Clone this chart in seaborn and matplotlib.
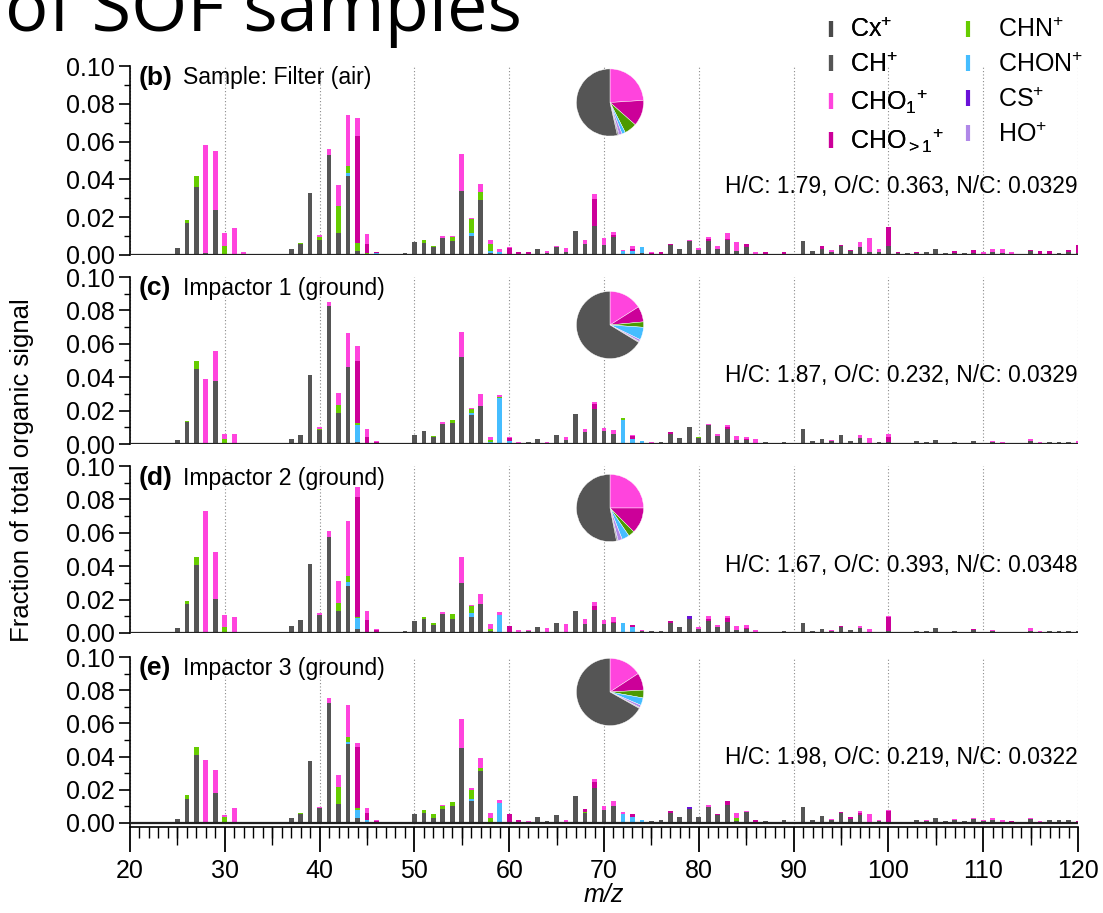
import numpy as np
import pandas as pd
import matplotlib
matplotlib.use("Agg")
import matplotlib.pyplot as plt
from matplotlib.lines import Line2D
from matplotlib.ticker import MultipleLocator, FixedLocator, FormatStrFormatter
import seaborn as sns

# ---------------- data ----------------
MZ = list(range(20, 121))
STACK_ORDER = ["CH", "CHON", "CHN", "CHOgt1", "CHO1", "CS"]  # bottom -> top

# Panel (b) Filter (air)
b_CH = {25: .0035, 26: .017, 27: .036, 28: .001, 29: .024, 30: .0003, 37: .0032, 38: .0058, 39: .033,
        40: .0078, 41: .0529, 42: .0116, 43: .0416, 44: .0023, 46: .0004, 49: .001, 50: .0069, 51: .0065,
        52: .004, 53: .0088, 54: .0076, 55: .034, 56: .010, 57: .029, 58: .001, 59: .0005, 63: .003,
        64: .0008, 65: .0044, 66: .0018, 67: .0125, 68: .0058, 69: .0155, 70: .0055, 71: .0095, 72: .0004,
        74: .001, 75: .0004, 77: .0051, 78: .0032, 79: .0074, 80: .0026, 81: .0074, 82: .0032, 83: .0078,
        84: .0021, 85: .0044, 86: .0004, 87: .0006, 88: .0005, 89: .0006, 91: .0074, 92: .0021, 93: .003,
        94: .0018, 95: .0048, 96: .002, 97: .004, 98: .0016, 99: .0016, 100: .0048, 101: .0008, 102: .0009,
        103: .0008, 104: .0016, 105: .003, 106: .001, 107: .001, 108: .0012, 109: .001, 110: .0004,
        111: .0016, 112: .0008, 113: .0004, 114: .0004, 115: .002, 116: .0006, 117: .0006, 118: .001,
        119: .0018, 120: .001}
b_CHON = {43: .0016, 46: .0006, 56: .0018, 58: .001, 59: .0012, 60: .0004, 72: .0017, 73: .0022, 74: .0031}
b_CHN = {26: .0015, 27: .0058, 30: .0042, 38: .0006, 40: .0019, 42: .0143, 43: .0038, 44: .0039, 45: .001,
         51: .0013, 52: .0006, 54: .0019, 56: .0074, 57: .0045, 58: .0038}
b_CHOgt1 = {44: .0568, 45: .005, 46: .0006, 47: .0004, 60: .0034, 61: .0016, 62: .0014, 69: .0141, 71: .0013,
            73: .0012, 75: .0006, 76: .0014, 77: .0009, 81: .0011, 83: .0005, 85: .0012, 87: .0012, 89: .0008,
            93: .0018, 95: .0003, 96: .0006, 100: .0102, 101: .0006, 103: .0008, 107: .0009, 109: .0015,
            115: .0008, 116: .0015, 117: .0015, 119: .0008, 120: .0041}
b_CHO1 = {28: .057, 29: .0312, 30: .0073, 31: .0141, 32: .0018, 40: .0009, 41: .0031, 42: .0111, 43: .0272,
          44: .0095, 45: .0053, 46: .0002, 53: .0014, 54: .0005, 55: .0194, 56: .0004, 57: .0041, 58: .002,
          59: .0017, 60: .0003, 63: .0004, 64: .0012, 65: .0004, 66: .0019, 68: .0021, 69: .0025, 70: .0033,
          71: .0014, 72: .0003, 73: .0014, 75: .0004, 79: .0004, 80: .0009, 81: .001, 82: .0016, 83: .0033,
          84: .0048, 85: .0003, 86: .0012, 94: .0007, 97: .0029, 98: .0072, 99: .0014, 110: .001, 111: .0014,
          112: .0022, 113: .0012}
b_CS = {}

# Panel (c) Impactor 1
c_CH = {25: .0024, 26: .0132, 27: .0447, 28: .0008, 29: .0377, 30: .0008, 37: .003, 38: .0054, 39: .0413,
        40: .0084, 41: .0828, 42: .0184, 43: .0459, 44: .0014, 49: .0008, 50: .0054, 51: .0078, 52: .0044,
        53: .012, 54: .0124, 55: .0523, 56: .0174, 57: .0228, 58: .0008, 62: .001, 63: .0028, 64: .0006,
        65: .0054, 66: .0024, 67: .018, 68: .0074, 69: .021, 70: .008, 71: .0062, 72: .0006, 74: .0008,
        76: .001, 77: .006, 78: .0036, 79: .0104, 80: .0038, 81: .0114, 82: .005, 83: .0088, 84: .0024,
        85: .0024, 87: .001, 89: .0012, 91: .0092, 92: .0018, 93: .0032, 94: .0015, 95: .0052, 96: .002,
        97: .0036, 98: .0008, 99: .001, 100: .0012, 101: .0006, 102: .0006, 103: .0016, 104: .001,
        105: .0026, 106: .0008, 107: .0014, 108: .0008, 109: .0018, 110: .0008, 111: .0012, 112: .0004,
        115: .0016, 117: .0014, 118: .001, 119: .0014, 120: .0004}
c_CHON = {44: .01, 56: .0014, 58: .0004, 59: .0275, 60: .0018, 72: .0136, 73: .003, 74: .0008}
c_CHN = {26: .0006, 27: .005, 30: .0024, 40: .0008, 42: .0048, 44: .001, 45: .0006, 52: .0006, 54: .0022,
         56: .002, 58: .0014, 59: .0004, 72: .0014, 80: .0006}
c_CHOgt1 = {44: .0376, 45: .0038, 46: .0014, 60: .002, 61: .0006, 69: .0028, 73: .0018, 77: .0014, 83: .0012,
            85: .0006, 86: .0004, 100: .003, 113: .0006}
c_CHO1 = {28: .0379, 29: .018, 30: .0028, 31: .0058, 40: .0008, 41: .002, 42: .0075, 43: .0206, 44: .0087,
          45: .0044, 46: .0004, 53: .001, 55: .0146, 56: .0008, 57: .0072, 58: .0016, 59: .0015, 60: .0004,
          61: .0004, 64: .0004, 66: .0016, 68: .0014, 69: .0013, 70: .0016, 71: .0024, 73: .0004, 75: .001,
          81: .0006, 82: .0012, 83: .0016, 84: .0024, 85: .001, 86: .0024, 94: .0008, 97: .0016, 98: .003,
          100: .0018, 111: .0008, 112: .001, 115: .0016, 116: .0012, 120: .0014}
c_CS = {}

# Panel (d) Impactor 2
d_CH = {25: .0032, 26: .0174, 27: .0405, 28: .0008, 29: .0204, 30: .0004, 37: .0044, 38: .008, 39: .0415,
        40: .0106, 41: .0573, 42: .013, 43: .0279, 44: .0024, 49: .001, 50: .0074, 51: .0084, 52: .0048,
        53: .0112, 54: .0084, 55: .030, 56: .0094, 57: .0174, 58: .001, 62: .0012, 63: .0038, 64: .0004,
        65: .006, 66: .0004, 67: .013, 68: .0052, 69: .0136, 70: .0052, 71: .006, 74: .0014, 75: .0012,
        76: .0012, 77: .0058, 78: .0036, 79: .0086, 80: .0026, 81: .0072, 82: .0034, 83: .0064, 84: .0018,
        85: .0026, 87: .0008, 89: .001, 91: .0058, 92: .0014, 93: .0026, 94: .0012, 95: .0036, 96: .0016,
        97: .0028, 98: .0006, 99: .0008, 100: .0012, 101: .0006, 102: .0006, 103: .0014, 104: .001,
        105: .003, 106: .0008, 107: .0014, 108: .0008, 109: .0016, 110: .0006, 111: .0012, 115: .0014,
        117: .0012, 118: .001, 119: .0014, 120: .0012}
d_CHON = {43: .0024, 44: .0066, 46: .0008, 56: .0026, 59: .011, 60: .0006, 72: .006, 73: .0036}
d_CHN = {26: .002, 27: .005, 30: .003, 42: .005, 43: .0036, 44: .0004, 51: .0014, 52: .0014, 54: .0028,
         56: .004, 58: .0014}
d_CHOgt1 = {44: .072, 45: .008, 46: .0012, 60: .0034, 61: .0006, 69: .0024, 71: .0006, 73: .0014, 77: .0016,
            81: .0012, 83: .0024, 85: .0006, 86: .0008, 95: .0008, 100: .0082, 109: .0006, 113: .0008}
d_CHO1 = {28: .0722, 29: .0281, 30: .0072, 31: .0098, 40: .0012, 41: .0036, 42: .0133, 43: .0334, 44: .006,
          45: .0054, 46: .0004, 53: .0016, 55: .0155, 56: .0006, 57: .0062, 58: .0032, 59: .0018, 61: .001,
          62: .0004, 64: .0026, 66: .0048, 68: .0032, 69: .0026, 70: .0026, 71: .003, 74: .0004, 80: .0012,
          81: .002, 82: .0012, 83: .0016, 84: .0024, 85: .0014, 86: .0012, 94: .0006, 97: .0012, 98: .002,
          100: .0008, 111: .0008, 112: .0008, 115: .0016, 116: .001}
d_CS = {79: .0014}

# Panel (e) Impactor 3
e_CH = {25: .0022, 26: .0143, 27: .0412, 28: .0008, 29: .0183, 30: .0008, 37: .003, 38: .0052, 39: .0371,
        40: .009, 41: .0723, 42: .0114, 43: .0474, 44: .003, 47: .0004, 49: .0006, 50: .0052, 51: .006,
        52: .0032, 53: .0086, 54: .0102, 55: .0452, 56: .013, 57: .0313, 58: .0006, 62: .0008, 63: .0034,
        64: .001, 65: .0048, 67: .0163, 68: .0058, 69: .0213, 70: .0076, 71: .0102, 72: .0004, 75: .001,
        76: .0016, 77: .0058, 78: .0034, 79: .0086, 80: .0036, 81: .0096, 82: .0048, 83: .0106, 84: .001,
        85: .0066, 87: .001, 88: .0004, 89: .0016, 91: .0094, 92: .002, 93: .004, 94: .002, 95: .006,
        96: .0026, 97: .005, 98: .0004, 99: .001, 100: .0006, 101: .0008, 102: .0008, 103: .002, 104: .0012,
        105: .0032, 106: .001, 107: .002, 108: .001, 109: .0024, 110: .001, 111: .0016, 114: .0004,
        115: .0022, 117: .002, 118: .0016, 119: .002}
e_CHON = {43: .0014, 44: .005, 45: .002, 56: .0015, 59: .0122, 60: .0008, 72: .0048, 73: .0036, 74: .0016}
e_CHN = {26: .0024, 27: .0046, 30: .0028, 38: .0006, 42: .0101, 43: .003, 44: .0008, 51: .0016, 52: .002,
         53: .0018, 54: .0022, 56: .0055, 57: .002, 58: .0026, 68: .0006, 84: .002}
e_CHOgt1 = {44: .037, 45: .0038, 46: .0014, 60: .0044, 61: .0016, 68: .0018, 69: .0034, 73: .002, 77: .0016,
            82: .0006, 83: .0027, 86: .0016, 95: .0004, 96: .0008, 97: .0012, 100: .0068, 113: .001, 120: .0014}
e_CHO1 = {28: .0372, 29: .0134, 30: .001, 31: .009, 40: .0008, 41: .0028, 42: .0072, 43: .0195, 44: .0022,
          45: .003, 46: .0004, 53: .0006, 55: .0172, 56: .0009, 57: .0061, 58: .0026, 59: .0015, 62: .0006,
          66: .0016, 69: .002, 70: .0028, 71: .0031, 72: .0014, 81: .001, 84: .0032, 85: .0008, 86: .0004,
          94: .0002, 97: .001, 98: .0052, 99: .001, 100: .0002, 104: .0004, 107: .0006, 109: .0004,
          110: .0006, 111: .0016, 112: .0016, 115: .001, 116: .0012}
e_CS = {75: .0004, 79: .0012}

panel_letters = ["(b)", "(c)", "(d)", "(e)"]
panel_titles = ["Sample: Filter (air)", "Impactor 1 (ground)", "Impactor 2 (ground)", "Impactor 3 (ground)"]
elemental_ratios = ["H/C: 1.79, O/C: 0.363, N/C: 0.0329",
                    "H/C: 1.87, O/C: 0.232, N/C: 0.0329",
                    "H/C: 1.67, O/C: 0.393, N/C: 0.0348",
                    "H/C: 1.98, O/C: 0.219, N/C: 0.0322"]

# Pie fractions (clockwise from top)
PIE_ORDER = ["CHO1", "CHOgt1", "CHN", "CHON", "HO", "CS", "Cx", "CH"]
b_pie = [0.24, 0.125, 0.06, 0.017, 0.014, 0.004, 0.005, 0.535]
c_pie = [0.16, 0.075, 0.026, 0.061, 0.010, 0.002, 0.003, 0.663]
d_pie = [0.25, 0.125, 0.030, 0.036, 0.020, 0.003, 0.005, 0.531]
e_pie = [0.158, 0.083, 0.0375, 0.036, 0.012, 0.002, 0.003, 0.6685]

LEGEND_COL1_KEYS = ["Cx", "CH", "CHO1", "CHOgt1"]
LEGEND_COL1_LABELS = ["Cx$^{+}$", "CH$^{+}$", "CHO$_{1}$$^{+}$", "CHO$_{>1}$$^{+}$"]
LEGEND_COL2_KEYS = ["CHN", "CHON", "CS", "HO"]
LEGEND_COL2_LABELS = ["CHN$^{+}$", "CHON$^{+}$", "CS$^{+}$", "HO$^{+}$"]

# ---------------- style ----------------
BAR_COLORS = {"CH": "#555555", "CHON": "#45bdff", "CHN": "#66cc00", "CHOgt1": "#cc0099",
              "CHO1": "#ff44dd", "CS": "#6a11d8"}
PIE_COLORS = {"CHO1": "#ff44dd", "CHOgt1": "#cc0099", "CHN": "#4c9a00", "CHON": "#45bdff",
              "HO": "#b088e8", "CS": "#6a11d8", "Cx": "#3a3a3a", "CH": "#555555"}
LEG_COLORS = {"Cx": "#4a4a4a", "CH": "#555555", "CHO1": "#ff44dd", "CHOgt1": "#cc0099",
              "CHN": "#66cc00", "CHON": "#45bdff", "CS": "#6a11d8", "HO": "#b088e8"}

sns.set_style("ticks")
plt.rcParams["font.family"] = ["Liberation Sans", "DejaVu Sans"]
plt.rcParams["mathtext.fontset"] = "custom"
plt.rcParams["mathtext.rm"] = "Liberation Sans"
plt.rcParams["mathtext.it"] = "Liberation Sans:italic"
plt.rcParams["mathtext.bf"] = "Liberation Sans:bold"
for key in ["text.color", "axes.labelcolor", "xtick.color", "ytick.color", "axes.edgecolor"]:
    plt.rcParams[key] = "black"

W, H = 1103, 913
fig = plt.figure(figsize=(W / 100, H / 100), dpi=100)

L = 130 / W
AW = 948 / W
panel_rects = [[L, 1 - 255 / H, AW, 189 / H],
               [L, 1 - 444 / H, AW, 167 / H],
               [L, 1 - 633 / H, AW, 167 / H],
               [L, 1 - 827 / H, AW, 170 / H]]
pie_bottoms = [1 - 144.5 / H, 1 - 367 / H, 1 - 550 / H, 1 - 734 / H]
text_y = [0.36, 0.413, 0.407, 0.406]
label_y = [0.937, 0.934, 0.928, 0.935]

panels = [
    {"CH": b_CH, "CHON": b_CHON, "CHN": b_CHN, "CHOgt1": b_CHOgt1, "CHO1": b_CHO1, "CS": b_CS},
    {"CH": c_CH, "CHON": c_CHON, "CHN": c_CHN, "CHOgt1": c_CHOgt1, "CHO1": c_CHO1, "CS": c_CS},
    {"CH": d_CH, "CHON": d_CHON, "CHN": d_CHN, "CHOgt1": d_CHOgt1, "CHO1": d_CHO1, "CS": d_CS},
    {"CH": e_CH, "CHON": e_CHON, "CHN": e_CHN, "CHOgt1": e_CHOgt1, "CHO1": e_CHO1, "CS": e_CS},
]
pies = [b_pie, c_pie, d_pie, e_pie]


def long_df(series):
    rows = []
    for fam in STACK_ORDER:
        d = series[fam]
        for mz in MZ:
            rows.append((mz, fam, d.get(mz, 0.0)))
    return pd.DataFrame(rows, columns=["mz", "family", "frac"])


YTICK_FS = 18
XTICK_FS = 18
TXT_FS = 16.4

for i, (series, rect) in enumerate(zip(panels, panel_rects)):
    ax = fig.add_axes(rect)
    df = long_df(series)
    sns.histplot(data=df, x="mz", weights="frac", hue="family", hue_order=STACK_ORDER[::-1],
                 multiple="stack", discrete=True, shrink=0.5, palette=BAR_COLORS,
                 linewidth=0, alpha=1, legend=False, ax=ax, zorder=2)
    last = i == 3
    ax.set_xlim(20, 120)
    ax.set_ylim(-0.0025 if last else 0, 0.1)
    ax.set_xlabel("")
    ax.set_ylabel("")
    ax.yaxis.set_major_locator(FixedLocator([0, 0.02, 0.04, 0.06, 0.08, 0.10]))
    ax.yaxis.set_minor_locator(FixedLocator([0.01, 0.03, 0.05, 0.07, 0.09]))
    ax.yaxis.set_major_formatter(FormatStrFormatter("%.2f"))
    ax.tick_params(axis="y", which="major", direction="out", length=8, width=1.2,
                   labelsize=YTICK_FS, pad=3, color="black")
    ax.tick_params(axis="y", which="minor", direction="out", length=4, width=1.0, color="black")
    ax.spines["top"].set_visible(False)
    ax.spines["right"].set_visible(False)
    ax.spines["left"].set_linewidth(1.2)
    ax.xaxis.set_major_locator(MultipleLocator(10))
    ax.grid(axis="x", which="major", linestyle=(0, (1, 2)), color="#8a8a8a", linewidth=0.8)
    ax.grid(axis="y", visible=False)
    ax.set_axisbelow(True)
    ax.axhline(0, color="#222222", lw=1.6, zorder=3)
    ax.patch.set_alpha(0)
    if not last:
        ax.spines["bottom"].set_visible(False)
        ax.tick_params(axis="x", which="both", length=0, labelbottom=False)
    else:
        ax.spines["bottom"].set_linewidth(1.2)
        ax.xaxis.set_minor_locator(MultipleLocator(1))
        ax.tick_params(axis="x", which="major", direction="out", length=18, width=1.3,
                       labelsize=XTICK_FS, pad=5, color="black")
        ax.tick_params(axis="x", which="minor", direction="out", length=8, width=1.0, color="black")
        sec = ax.secondary_xaxis("bottom")
        sec.xaxis.set_major_locator(FixedLocator(list(range(25, 120, 10))))
        sec.tick_params(axis="x", which="major", direction="out", length=13, width=1.0,
                        labelbottom=False, color="black")
        sec.spines["bottom"].set_visible(False)

    ax.text(0.0095, label_y[i], panel_letters[i], transform=ax.transAxes, ha="left", va="center",
            fontsize=19, fontweight="bold")
    ax.text(0.056, label_y[i], panel_titles[i], transform=ax.transAxes, ha="left", va="center",
            fontsize=TXT_FS + 0.2)
    ax.text(1.0, text_y[i], elemental_ratios[i], transform=ax.transAxes, ha="right", va="center",
            fontsize=TXT_FS)

    pax = fig.add_axes([(610 - 42) / W, pie_bottoms[i], 84 / W, 84 / H])
    pax.pie(pies[i], colors=[PIE_COLORS[k] for k in PIE_ORDER], startangle=90, counterclock=False,
            wedgeprops=dict(linewidth=0.3, edgecolor="white"))
    pax.set_aspect("equal")


# legend: two columns placed independently
def make_handles(keys):
    return [Line2D([], [], color=LEG_COLORS[k], marker="|", linestyle="None", markersize=12,
                   markeredgewidth=3) for k in keys]


LEG_FS = 18
em = LEG_FS * 100 / 72
pad_px = (0.3 + 0.4 + 0.5) * em  # half handle + borderpad + borderaxespad
top_y = 1 + (0.5 * em - 8) / H
leg1 = fig.legend(make_handles(LEGEND_COL1_KEYS), LEGEND_COL1_LABELS, loc="upper left",
                  bbox_to_anchor=((831 - pad_px) / W, top_y), frameon=False,
                  fontsize=LEG_FS, handlelength=0.6, handletextpad=0.45, labelspacing=0.42)
fig.add_artist(leg1)
fig.legend(make_handles(LEGEND_COL2_KEYS), LEGEND_COL2_LABELS, loc="upper left",
           bbox_to_anchor=((968 - pad_px) / W, top_y), frameon=False,
           fontsize=LEG_FS, handlelength=0.6, handletextpad=0.9, labelspacing=0.42)

fig.text(22 / W, 1 - 470 / H, "Fraction of total organic signal", rotation=90, ha="center",
         va="center", fontsize=18.5)
fig.text(604 / W, 1 - 895 / H, "m/z", ha="center", va="center", fontsize=18, style="italic")
fig.text(522 / W, 1 - 31 / H, "of SOF samples", ha="right", va="baseline", fontsize=52,
         family="Open Sans")

fig.savefig("out.png", dpi=100)
